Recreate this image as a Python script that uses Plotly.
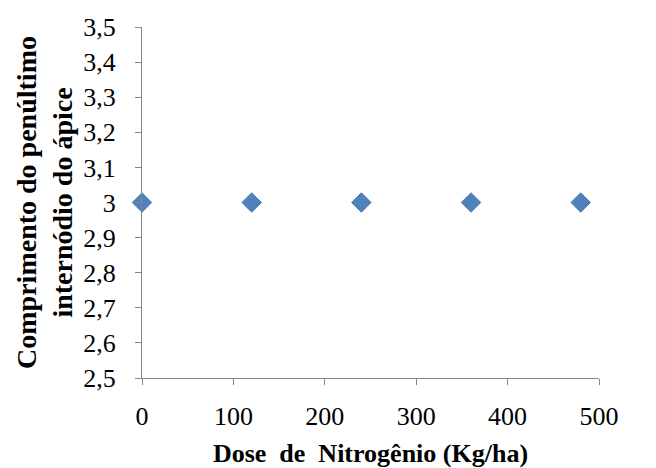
import plotly.graph_objects as go

dose = [0, 120, 240, 360, 480]
comprimento = [3, 3, 3, 3, 3]

y_tickvals = [2.5, 2.6, 2.7, 2.8, 2.9, 3.0, 3.1, 3.2, 3.3, 3.4, 3.5]
y_ticktext = ["2,5", "2,6", "2,7", "2,8", "2,9", "3", "3,1", "3,2", "3,3", "3,4", "3,5"]
x_tickvals = [0, 100, 200, 300, 400, 500]
x_ticktext = ["0", "100", "200", "300", "400", "500"]

fig = go.Figure()
fig.add_trace(go.Scatter(
    x=dose, y=comprimento, mode="markers",
    marker=dict(symbol="diamond", size=15, color="#4F81BD",
                line=dict(color="#4A7EBB", width=1)),
    cliponaxis=False, showlegend=False,
))

font_family = "Times New Roman, Liberation Serif, serif"
axis_color = "#868686"

fig.update_layout(
    width=656, height=468,
    margin=dict(l=142, r=57, t=27, b=90),
    paper_bgcolor="white", plot_bgcolor="white",
    font=dict(family=font_family, size=26, color="black"),
    xaxis=dict(
        range=[0, 500], tickvals=x_tickvals, ticktext=x_ticktext,
        showgrid=False, zeroline=False, showline=True,
        linecolor=axis_color, linewidth=1,
        ticks="outside", ticklen=6, tickcolor=axis_color, tickwidth=1,
        tickfont=dict(family=font_family, size=26),
        ticklabelstandoff=9, automargin=False,
        title=dict(text="<b>Dose  de  Nitrogênio (Kg/ha)</b>",
                   font=dict(family=font_family, size=26), standoff=16),
    ),
    yaxis=dict(
        range=[2.5, 3.5], tickvals=y_tickvals, ticktext=y_ticktext,
        showgrid=False, zeroline=False, showline=True,
        linecolor=axis_color, linewidth=1,
        ticks="outside", ticklen=6, tickcolor=axis_color, tickwidth=1,
        tickfont=dict(family=font_family, size=26),
        ticklabelstandoff=14, automargin=False,
        title=dict(text="<b>Comprimento do penúltimo<br>internódio do ápice</b>",
                   font=dict(family=font_family, size=28), standoff=2),
    ),
)

fig.write_html("out.html")
